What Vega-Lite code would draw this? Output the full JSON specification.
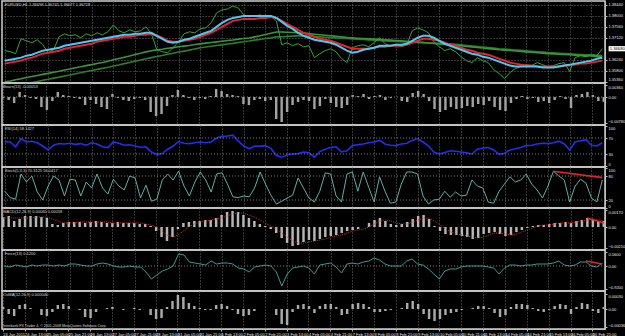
{
"$schema":"https://vega.github.io/schema/vega-lite/v6.json",
"background":"black",
"padding":0,
"spacing":0,
"bounds":"flush",
"config":{
 "view":{"stroke":"#cfcfcf","strokeWidth":1.5},
 "axis":{"labelFont":"Liberation Sans","labelFontSize":4.2,"labelColor":"#e6e6e6","domainColor":"#bdbdbd","tickColor":"#bdbdbd","gridColor":"#6c6c6c","gridDash":[1,2],"gridWidth":1,"tickSize":2,"labelPadding":1,"labelOverlap":false},
 "axisY":{"labelFlush":3.5,"labelFontSize":4},
 "text":{"font":"Liberation Sans","fontSize":4,"color":"#d8d8d8"}
},
"datasets":{"d":[
{"t":"24 Jan 2011","c":1.366,"e1":1.362,"e2":1.3608,"m1":1.35344,"m2":1.35104,"b":-0.0003,"r":61,"s":42,"m":0.001,"g":0.0009,"f":0,"o":0.00004},
{"t":"24 Jan 01:00","c":1.3656,"e1":1.3624,"e2":1.3612,"m1":1.35384,"m2":1.35144,"b":-0.0009,"r":60,"s":26,"m":0.0011,"g":0.0009,"f":-0.04,"o":-0.0001},
{"t":"24 Jan 05:00","c":1.3648,"e1":1.3628,"e2":1.3616,"m1":1.35432,"m2":1.35192,"b":-0.0018,"r":48,"s":22,"m":0.0006,"g":0.0009,"f":0.04,"o":-0.00014},
{"t":"24 Jan 09:00","c":1.3708,"e1":1.3632,"e2":1.362,"m1":1.35472,"m2":1.35232,"b":0.0015,"r":68,"s":85,"m":0.0008,"g":0.0009,"f":0,"o":0.00008},
{"t":"24 Jan 13:00","c":1.37,"e1":1.364,"e2":1.3628,"m1":1.3552,"m2":1.3528,"b":0.0006,"r":60,"s":65,"m":0.0011,"g":0.0009,"f":-0.04,"o":0.0001},
{"t":"24 Jan 17:00","c":1.3692,"e1":1.3644,"e2":1.3632,"m1":1.3556,"m2":1.3532,"b":-0.0003,"r":62,"s":80,"m":0.0011,"g":0.0009,"f":0.04,"o":0.00002},
{"t":"24 Jan 21:00","c":1.3704,"e1":1.3652,"e2":1.364,"m1":1.356,"m2":1.3536,"b":-0.0006,"r":58,"s":40,"m":0.0011,"g":0.001,"f":0,"o":0},
{"t":"25 Jan 01:00","c":1.3684,"e1":1.366,"e2":1.3648,"m1":1.35648,"m2":1.35408,"b":-0.003,"r":50,"s":20,"m":0.001,"g":0.001,"f":0.04,"o":-0.00012},
{"t":"25 Jan 05:00","c":1.3652,"e1":1.3664,"e2":1.3652,"m1":1.35688,"m2":1.35448,"b":-0.0039,"r":40,"s":55,"m":0.0009,"g":0.001,"f":0.04,"o":-0.00014},
{"t":"25 Jan 09:00","c":1.3664,"e1":1.3668,"e2":1.3656,"m1":1.35736,"m2":1.35496,"b":-0.0012,"r":52,"s":80,"m":0.0003,"g":0.0008,"f":0,"o":-0.00006},
{"t":"25 Jan 13:00","c":1.3716,"e1":1.3672,"e2":1.366,"m1":1.35776,"m2":1.35536,"b":0.0015,"r":56,"s":70,"m":0.0002,"g":0.0006,"f":0.04,"o":0.00008},
{"t":"25 Jan 17:00","c":1.3728,"e1":1.368,"e2":1.3668,"m1":1.35824,"m2":1.35584,"b":0.0006,"r":55,"s":30,"m":0.0004,"g":0.0004,"f":0,"o":0.0001},
{"t":"25 Jan 21:00","c":1.372,"e1":1.3684,"e2":1.3672,"m1":1.35864,"m2":1.35624,"b":0.0003,"r":57,"s":72,"m":0.0005,"g":0.0004,"f":0.08,"o":0.00006},
{"t":"26 Jan 01:00","c":1.3724,"e1":1.3688,"e2":1.3676,"m1":1.35912,"m2":1.35672,"b":-0.0003,"r":54,"s":70,"m":0.0005,"g":0.0004,"f":0.08,"o":0},
{"t":"26 Jan 05:00","c":1.3712,"e1":1.3692,"e2":1.368,"m1":1.35952,"m2":1.35712,"b":-0.0006,"r":56,"s":30,"m":0.0005,"g":0.0005,"f":0.04,"o":-0.00002},
{"t":"26 Jan 09:00","c":1.3728,"e1":1.3696,"e2":1.3684,"m1":1.36,"m2":1.3576,"b":-0.0024,"r":52,"s":65,"m":0.0004,"g":0.0005,"f":0,"o":-0.00016},
{"t":"26 Jan 13:00","c":1.372,"e1":1.37,"e2":1.3688,"m1":1.3604,"m2":1.358,"b":-0.0009,"r":58,"s":50,"m":0.0005,"g":0.0005,"f":0,"o":-0.00018},
{"t":"26 Jan 17:00","c":1.3732,"e1":1.3704,"e2":1.3696,"m1":1.36088,"m2":1.35848,"b":-0.0021,"r":55,"s":85,"m":0.0006,"g":0.0005,"f":0.08,"o":-0.00006},
{"t":"26 Jan 21:00","c":1.3724,"e1":1.3708,"e2":1.37,"m1":1.36128,"m2":1.35888,"b":-0.003,"r":48,"s":50,"m":0.0005,"g":0.0005,"f":0.12,"o":0},
{"t":"27 Jan 01:00","c":1.3736,"e1":1.3712,"e2":1.3704,"m1":1.36176,"m2":1.35932,"b":-0.0036,"r":46,"s":35,"m":0.0004,"g":0.0005,"f":0.08,"o":0.00002},
{"t":"27 Jan 05:00","c":1.3764,"e1":1.3716,"e2":1.3708,"m1":1.36236,"m2":1.35984,"b":0.0009,"r":60,"s":72,"m":0.0004,"g":0.0004,"f":0,"o":0.00004},
{"t":"27 Jan 09:00","c":1.374,"e1":1.372,"e2":1.3712,"m1":1.36284,"m2":1.36028,"b":-0.0003,"r":57,"s":55,"m":0.0005,"g":0.0004,"f":-0.04,"o":0},
{"t":"27 Jan 13:00","c":1.3732,"e1":1.3724,"e2":1.3716,"m1":1.3634,"m2":1.3608,"b":-0.0009,"r":52,"s":45,"m":0.0004,"g":0.0004,"f":-0.04,"o":-0.00002},
{"t":"27 Jan 17:00","c":1.3744,"e1":1.3724,"e2":1.3716,"m1":1.36388,"m2":1.36128,"b":-0.0012,"r":53,"s":80,"m":0.0004,"g":0.0004,"f":0,"o":0},
{"t":"27 Jan 21:00","c":1.3736,"e1":1.3728,"e2":1.372,"m1":1.36448,"m2":1.3618,"b":-0.0006,"r":50,"s":75,"m":0.0004,"g":0.0004,"f":-0.04,"o":0.00002},
{"t":"28 Jan 01:00","c":1.374,"e1":1.3728,"e2":1.3724,"m1":1.36496,"m2":1.36224,"b":-0.0003,"r":47,"s":25,"m":0.0003,"g":0.0004,"f":-0.04,"o":-0.00002},
{"t":"28 Jan 05:00","c":1.3756,"e1":1.3732,"e2":1.3724,"m1":1.36552,"m2":1.36276,"b":-0.0009,"r":48,"s":57,"m":0.0003,"g":0.0003,"f":-0.24,"o":0},
{"t":"28 Jan 09:00","c":1.3728,"e1":1.3732,"e2":1.3728,"m1":1.366,"m2":1.3632,"b":-0.0045,"r":35,"s":17,"m":0.0001,"g":0.0002,"f":-0.52,"o":-0.00012},
{"t":"28 Jan 13:00","c":1.3664,"e1":1.372,"e2":1.372,"m1":1.36632,"m2":1.36368,"b":-0.0057,"r":29,"s":22,"m":-0.0004,"g":0,"f":-0.36,"o":-0.0002},
{"t":"28 Jan 17:00","c":1.3656,"e1":1.3708,"e2":1.3712,"m1":1.3666,"m2":1.36408,"b":-0.0051,"r":31,"s":70,"m":-0.001,"g":-0.0004,"f":-0.2,"o":-0.00018},
{"t":"28 Jan 21:00","c":1.3652,"e1":1.3696,"e2":1.37,"m1":1.36696,"m2":1.36456,"b":-0.0027,"r":42,"s":85,"m":-0.0014,"g":-0.0008,"f":-0.12,"o":0.00004},
{"t":"31 Jan 01:00","c":1.3672,"e1":1.3692,"e2":1.3696,"m1":1.36724,"m2":1.36496,"b":0.0006,"r":50,"s":70,"m":-0.001,"g":-0.001,"f":0,"o":0.00016},
{"t":"31 Jan 05:00","c":1.3696,"e1":1.3696,"e2":1.3696,"m1":1.36756,"m2":1.36544,"b":0.0021,"r":61,"s":92,"m":-0.0002,"g":-0.0008,"f":0.48,"o":0.00028},
{"t":"31 Jan 09:00","c":1.3728,"e1":1.3704,"e2":1.37,"m1":1.36784,"m2":1.36584,"b":0.0006,"r":57,"s":55,"m":0.0004,"g":-0.0004,"f":0.44,"o":0.00024},
{"t":"31 Jan 13:00","c":1.3736,"e1":1.3708,"e2":1.3704,"m1":1.36812,"m2":1.36624,"b":-0.0003,"r":56,"s":30,"m":0.0005,"g":0,"f":0.16,"o":0.00012},
{"t":"31 Jan 17:00","c":1.3732,"e1":1.3716,"e2":1.3708,"m1":1.36848,"m2":1.36672,"b":-0.0009,"r":58,"s":65,"m":0.0006,"g":0.0003,"f":0.12,"o":0.00006},
{"t":"31 Jan 21:00","c":1.3748,"e1":1.3724,"e2":1.3716,"m1":1.36876,"m2":1.36716,"b":-0.0003,"r":60,"s":90,"m":0.0006,"g":0.0005,"f":0.08,"o":0.00002},
{"t":"1 Feb 01:00","c":1.3752,"e1":1.3732,"e2":1.3724,"m1":1.36904,"m2":1.36748,"b":-0.0006,"r":58,"s":70,"m":0.0007,"g":0.0006,"f":0.04,"o":-0.00002},
{"t":"1 Feb 05:00","c":1.3772,"e1":1.374,"e2":1.3732,"m1":1.36928,"m2":1.36776,"b":0.0003,"r":60,"s":40,"m":0.0007,"g":0.0007,"f":0.2,"o":-0.00002},
{"t":"1 Feb 09:00","c":1.3812,"e1":1.3756,"e2":1.3744,"m1":1.36956,"m2":1.36808,"b":0.0024,"r":70,"s":85,"m":0.0009,"g":0.0008,"f":0.08,"o":0.00008},
{"t":"1 Feb 13:00","c":1.3824,"e1":1.3772,"e2":1.3756,"m1":1.3698,"m2":1.36836,"b":0.0018,"r":74,"s":88,"m":0.0012,"g":0.0009,"f":0.12,"o":0.0001},
{"t":"1 Feb 17:00","c":1.3828,"e1":1.3784,"e2":1.3768,"m1":1.37008,"m2":1.36868,"b":0.0009,"r":75,"s":60,"m":0.0015,"g":0.0011,"f":0.12,"o":0.00006},
{"t":"1 Feb 21:00","c":1.384,"e1":1.3792,"e2":1.378,"m1":1.37032,"m2":1.36896,"b":0.0006,"r":77,"s":28,"m":0.0016,"g":0.0013,"f":0.08,"o":-0.00002},
{"t":"2 Feb 01:00","c":1.3832,"e1":1.3796,"e2":1.3784,"m1":1.37064,"m2":1.36932,"b":0.0003,"r":62,"s":26,"m":0.0015,"g":0.0014,"f":-0.08,"o":-0.0001},
{"t":"2 Feb 05:00","c":1.3804,"e1":1.38,"e2":1.3788,"m1":1.37088,"m2":1.3696,"b":-0.0021,"r":50,"s":30,"m":0.0012,"g":0.0014,"f":-0.12,"o":-0.00014},
{"t":"2 Feb 09:00","c":1.3796,"e1":1.38,"e2":1.3788,"m1":1.37112,"m2":1.36988,"b":-0.0024,"r":43,"s":28,"m":0.0009,"g":0.0012,"f":-0.24,"o":-0.00012},
{"t":"2 Feb 13:00","c":1.38,"e1":1.38,"e2":1.3788,"m1":1.37156,"m2":1.37024,"b":-0.0009,"r":50,"s":50,"m":0.0006,"g":0.001,"f":-0.04,"o":-0.00004},
{"t":"2 Feb 17:00","c":1.3804,"e1":1.38,"e2":1.3792,"m1":1.372,"m2":1.37052,"b":-0.0006,"r":49,"s":90,"m":0.0003,"g":0.0007,"f":0,"o":0},
{"t":"2 Feb 21:00","c":1.3796,"e1":1.38,"e2":1.3792,"m1":1.37252,"m2":1.37088,"b":-0.0012,"r":51,"s":60,"m":0.0001,"g":0.0004,"f":0.04,"o":0},
{"t":"3 Feb 01:00","c":1.38,"e1":1.38,"e2":1.3796,"m1":1.373,"m2":1.37116,"b":-0.0009,"r":44,"s":32,"m":-0.0002,"g":0.0001,"f":0,"o":0},
{"t":"3 Feb 05:00","c":1.378,"e1":1.3792,"e2":1.3792,"m1":1.37352,"m2":1.37156,"b":-0.0066,"r":26,"s":10,"m":-0.0006,"g":-0.0002,"f":-0.24,"o":-0.00012},
{"t":"3 Feb 09:00","c":1.3684,"e1":1.3776,"e2":1.378,"m1":1.37352,"m2":1.37164,"b":-0.0075,"r":22,"s":17,"m":-0.0011,"g":-0.0006,"f":-0.8,"o":-0.0003},
{"t":"3 Feb 13:00","c":1.3692,"e1":1.376,"e2":1.3768,"m1":1.37344,"m2":1.37176,"b":-0.0045,"r":28,"s":25,"m":-0.0016,"g":-0.001,"f":-0.32,"o":-0.00032},
{"t":"3 Feb 17:00","c":1.368,"e1":1.3748,"e2":1.3756,"m1":1.37332,"m2":1.37188,"b":-0.0024,"r":30,"s":32,"m":-0.0019,"g":-0.0014,"f":-0.08,"o":-0.00006},
{"t":"3 Feb 21:00","c":1.3688,"e1":1.3732,"e2":1.3744,"m1":1.37324,"m2":1.37196,"b":-0.0015,"r":31,"s":75,"m":-0.0018,"g":-0.0016,"f":-0.04,"o":0.00008},
{"t":"4 Feb 01:00","c":1.3676,"e1":1.372,"e2":1.3732,"m1":1.37308,"m2":1.37192,"b":-0.0009,"r":35,"s":50,"m":-0.0015,"g":-0.0016,"f":0,"o":0.0001},
{"t":"4 Feb 05:00","c":1.368,"e1":1.3712,"e2":1.3724,"m1":1.37288,"m2":1.3718,"b":-0.0012,"r":33,"s":25,"m":-0.0013,"g":-0.0015,"f":-0.08,"o":0.00006},
{"t":"4 Feb 09:00","c":1.3632,"e1":1.3704,"e2":1.3716,"m1":1.37264,"m2":1.37168,"b":-0.0036,"r":22,"s":15,"m":-0.0014,"g":-0.0014,"f":-0.32,"o":-0.00008},
{"t":"4 Feb 13:00","c":1.3648,"e1":1.37,"e2":1.3708,"m1":1.37244,"m2":1.37156,"b":-0.0027,"r":36,"s":42,"m":-0.0012,"g":-0.0013,"f":0.04,"o":0.00006},
{"t":"4 Feb 17:00","c":1.366,"e1":1.3696,"e2":1.3704,"m1":1.3722,"m2":1.3714,"b":-0.0006,"r":42,"s":88,"m":-0.001,"g":-0.0012,"f":0.08,"o":0.0001},
{"t":"4 Feb 21:00","c":1.3668,"e1":1.3692,"e2":1.37,"m1":1.372,"m2":1.37128,"b":-0.0018,"r":46,"s":85,"m":-0.0009,"g":-0.001,"f":0.12,"o":0.0001},
{"t":"7 Feb 01:00","c":1.3656,"e1":1.3684,"e2":1.3692,"m1":1.37176,"m2":1.37112,"b":-0.003,"r":48,"s":30,"m":-0.0008,"g":-0.0009,"f":-0.04,"o":0.00004},
{"t":"7 Feb 05:00","c":1.3628,"e1":1.3672,"e2":1.3684,"m1":1.37156,"m2":1.371,"b":-0.0033,"r":35,"s":15,"m":-0.0006,"g":-0.0008,"f":-0.28,"o":-0.00012},
{"t":"7 Feb 09:00","c":1.3612,"e1":1.366,"e2":1.3676,"m1":1.37132,"m2":1.37088,"b":-0.0024,"r":38,"s":85,"m":-0.0004,"g":-0.0006,"f":0.08,"o":-0.0001},
{"t":"7 Feb 13:00","c":1.3672,"e1":1.3652,"e2":1.3668,"m1":1.37116,"m2":1.37076,"b":0.0006,"r":51,"s":90,"m":-0.0003,"g":-0.0004,"f":0.12,"o":0.0001},
{"t":"7 Feb 17:00","c":1.368,"e1":1.3656,"e2":1.3668,"m1":1.371,"m2":1.3706,"b":0.0003,"r":53,"s":42,"m":-0.0002,"g":-0.0003,"f":0.08,"o":0.00012},
{"t":"7 Feb 21:00","c":1.3684,"e1":1.3664,"e2":1.3668,"m1":1.37088,"m2":1.37048,"b":0.0009,"r":55,"s":90,"m":0,"g":-0.0002,"f":0.16,"o":0.0001},
{"t":"8 Feb 01:00","c":1.3676,"e1":1.3668,"e2":1.3668,"m1":1.37076,"m2":1.37036,"b":-0.0006,"r":58,"s":52,"m":0.0004,"g":0,"f":0.2,"o":0.00004},
{"t":"8 Feb 05:00","c":1.3692,"e1":1.3672,"e2":1.3672,"m1":1.37064,"m2":1.37024,"b":0.0003,"r":60,"s":15,"m":0.0007,"g":0.0003,"f":0.32,"o":-0.00006},
{"t":"8 Feb 09:00","c":1.3712,"e1":1.368,"e2":1.3676,"m1":1.37052,"m2":1.37012,"b":0.0006,"r":64,"s":78,"m":0.0009,"g":0.0006,"f":0.24,"o":-0.00006},
{"t":"8 Feb 13:00","c":1.3688,"e1":1.368,"e2":1.3676,"m1":1.37036,"m2":1.36996,"b":-0.0009,"r":55,"s":42,"m":0.0006,"g":0.0007,"f":0.08,"o":-0.00004},
{"t":"8 Feb 17:00","c":1.368,"e1":1.368,"e2":1.368,"m1":1.37024,"m2":1.36984,"b":-0.0003,"r":52,"s":12,"m":0.0003,"g":0.0006,"f":0,"o":-0.00002},
{"t":"8 Feb 21:00","c":1.3684,"e1":1.3684,"e2":1.368,"m1":1.37008,"m2":1.36968,"b":0,"r":51,"s":15,"m":0.0002,"g":0.0004,"f":0,"o":0},
{"t":"9 Feb 01:00","c":1.3676,"e1":1.3684,"e2":1.368,"m1":1.36996,"m2":1.3696,"b":-0.0012,"r":55,"s":60,"m":0.0003,"g":0.0003,"f":0,"o":0.00002},
{"t":"9 Feb 05:00","c":1.3684,"e1":1.3688,"e2":1.3684,"m1":1.36976,"m2":1.36948,"b":-0.0015,"r":57,"s":90,"m":0.0005,"g":0.0003,"f":0.2,"o":0.00012},
{"t":"9 Feb 09:00","c":1.374,"e1":1.37,"e2":1.3692,"m1":1.3696,"m2":1.3694,"b":0.0012,"r":64,"s":90,"m":0.0008,"g":0.0005,"f":0.28,"o":0.00016},
{"t":"9 Feb 13:00","c":1.3752,"e1":1.3712,"e2":1.37,"m1":1.36944,"m2":1.36932,"b":0.0018,"r":68,"s":85,"m":0.0011,"g":0.0007,"f":0.08,"o":0.0001},
{"t":"9 Feb 17:00","c":1.3744,"e1":1.372,"e2":1.3708,"m1":1.36928,"m2":1.36924,"b":0.0009,"r":60,"s":30,"m":0.0012,"g":0.0009,"f":0.04,"o":-0.0001},
{"t":"9 Feb 21:00","c":1.3732,"e1":1.372,"e2":1.3708,"m1":1.36908,"m2":1.36912,"b":-0.0012,"r":50,"s":10,"m":0.0008,"g":0.0009,"f":-0.12,"o":-0.0002},
{"t":"10 Feb 01:00","c":1.3696,"e1":1.3712,"e2":1.3704,"m1":1.36892,"m2":1.36904,"b":-0.0036,"r":35,"s":20,"m":0.0001,"g":0.0006,"f":-0.32,"o":-0.00024},
{"t":"10 Feb 05:00","c":1.3676,"e1":1.37,"e2":1.37,"m1":1.36872,"m2":1.36896,"b":-0.0045,"r":30,"s":22,"m":-0.0004,"g":0.0002,"f":-0.52,"o":-0.0002},
{"t":"10 Feb 09:00","c":1.366,"e1":1.3688,"e2":1.3692,"m1":1.36856,"m2":1.36888,"b":-0.0039,"r":34,"s":42,"m":-0.0007,"g":-0.0002,"f":-0.2,"o":-0.00012},
{"t":"10 Feb 13:00","c":1.3668,"e1":1.368,"e2":1.3684,"m1":1.3684,"m2":1.3688,"b":-0.003,"r":38,"s":27,"m":-0.0008,"g":-0.0005,"f":-0.12,"o":-0.00008},
{"t":"10 Feb 17:00","c":1.3656,"e1":1.3672,"e2":1.368,"m1":1.36816,"m2":1.36856,"b":-0.0036,"r":37,"s":40,"m":-0.0008,"g":-0.0007,"f":-0.12,"o":-0.00006},
{"t":"10 Feb 21:00","c":1.3636,"e1":1.3664,"e2":1.3672,"m1":1.36796,"m2":1.36836,"b":-0.0033,"r":35,"s":30,"m":-0.0009,"g":-0.0008,"f":-0.04,"o":-0.00002},
{"t":"11 Feb 01:00","c":1.362,"e1":1.3656,"e2":1.3664,"m1":1.36772,"m2":1.36812,"b":-0.0027,"r":33,"s":32,"m":-0.001,"g":-0.0009,"f":0,"o":0},
{"t":"11 Feb 05:00","c":1.3612,"e1":1.3648,"e2":1.366,"m1":1.36752,"m2":1.36792,"b":-0.003,"r":30,"s":70,"m":-0.0012,"g":-0.001,"f":0,"o":0.00002},
{"t":"11 Feb 09:00","c":1.3632,"e1":1.3644,"e2":1.3652,"m1":1.36728,"m2":1.36768,"b":-0.0021,"r":42,"s":55,"m":-0.0011,"g":-0.0011,"f":0,"o":0.00006},
{"t":"11 Feb 13:00","c":1.362,"e1":1.3636,"e2":1.3648,"m1":1.36708,"m2":1.36748,"b":-0.0024,"r":45,"s":50,"m":-0.0007,"g":-0.001,"f":0,"o":0.00006},
{"t":"11 Feb 17:00","c":1.3612,"e1":1.3632,"e2":1.3644,"m1":1.36684,"m2":1.36724,"b":-0.0012,"r":46,"s":15,"m":-0.0006,"g":-0.0008,"f":-0.04,"o":0.00002},
{"t":"11 Feb 21:00","c":1.3584,"e1":1.3624,"e2":1.3636,"m1":1.36664,"m2":1.36704,"b":-0.003,"r":40,"s":12,"m":-0.0005,"g":-0.0006,"f":-0.08,"o":-0.00008},
{"t":"14 Feb 01:00","c":1.3568,"e1":1.3616,"e2":1.3628,"m1":1.3664,"m2":1.3668,"b":-0.0039,"r":29,"s":42,"m":-0.0007,"g":-0.0006,"f":-0.32,"o":-0.00016},
{"t":"14 Feb 05:00","c":1.3548,"e1":1.3608,"e2":1.362,"m1":1.36624,"m2":1.36664,"b":-0.0042,"r":32,"s":60,"m":-0.0009,"g":-0.0007,"f":-0.08,"o":-0.00012},
{"t":"14 Feb 09:00","c":1.3572,"e1":1.36,"e2":1.3612,"m1":1.36608,"m2":1.36648,"b":-0.0018,"r":40,"s":78,"m":-0.0008,"g":-0.0008,"f":0.04,"o":0.00004},
{"t":"14 Feb 13:00","c":1.3588,"e1":1.3596,"e2":1.3608,"m1":1.36588,"m2":1.36628,"b":-0.0006,"r":43,"s":65,"m":-0.0005,"g":-0.0007,"f":0.04,"o":0.0001},
{"t":"14 Feb 17:00","c":1.3596,"e1":1.3596,"e2":1.3604,"m1":1.36572,"m2":1.36612,"b":0.0003,"r":46,"s":70,"m":-0.0003,"g":-0.0005,"f":0,"o":0.0001},
{"t":"14 Feb 21:00","c":1.3604,"e1":1.3596,"e2":1.36,"m1":1.36552,"m2":1.36592,"b":-0.0006,"r":51,"s":85,"m":-0.0001,"g":-0.0003,"f":0.04,"o":0.00008},
{"t":"15 Feb 01:00","c":1.36,"e1":1.3596,"e2":1.36,"m1":1.36536,"m2":1.36576,"b":-0.0003,"r":52,"s":60,"m":0.0001,"g":-0.0001,"f":0.04,"o":0.00002},
{"t":"15 Feb 05:00","c":1.3612,"e1":1.3596,"e2":1.3596,"m1":1.3652,"m2":1.3656,"b":-0.0015,"r":55,"s":45,"m":0.0002,"g":0.0001,"f":0.08,"o":-0.00004},
{"t":"15 Feb 09:00","c":1.3604,"e1":1.3592,"e2":1.3596,"m1":1.36504,"m2":1.36544,"b":-0.0012,"r":57,"s":25,"m":0.0002,"g":0.0002,"f":0.08,"o":-0.00006},
{"t":"15 Feb 13:00","c":1.3596,"e1":1.3592,"e2":1.3596,"m1":1.36484,"m2":1.36524,"b":-0.0018,"r":56,"s":55,"m":0.0003,"g":0.0002,"f":0.08,"o":-0.00002},
{"t":"15 Feb 17:00","c":1.36,"e1":1.3592,"e2":1.3596,"m1":1.36472,"m2":1.36512,"b":-0.0009,"r":58,"s":92,"m":0.0004,"g":0.0003,"f":0.12,"o":0.00006,"st":92},
{"t":"15 Feb 21:00","c":1.3608,"e1":1.3596,"e2":1.3596,"m1":1.36456,"m2":1.36496,"b":0.0003,"r":62,"s":80,"m":0.0004,"g":0.0004,"f":0.2,"o":0.0001},
{"t":"16 Feb 01:00","c":1.3612,"e1":1.36,"e2":1.36,"m1":1.36444,"m2":1.36484,"b":-0.0006,"r":55,"s":70,"m":0.0005,"g":0.0004,"f":0.04,"o":0.00008},
{"t":"16 Feb 05:00","c":1.3576,"e1":1.3604,"e2":1.36,"m1":1.36436,"m2":1.36476,"b":-0.0033,"r":40,"s":15,"m":0.0004,"g":0.0004,"f":0,"o":-0.0001},
{"t":"16 Feb 09:00","c":1.3632,"e1":1.3608,"e2":1.3604,"m1":1.3642,"m2":1.3646,"b":0.0006,"r":60,"s":55,"m":0.0006,"g":0.0005,"f":0.04,"o":0.00004},
{"t":"16 Feb 13:00","c":1.364,"e1":1.3612,"e2":1.3608,"m1":1.36408,"m2":1.36448,"b":0.0009,"r":63,"s":72,"m":0.0007,"g":0.0006,"f":0.16,"o":0.00012},
{"t":"16 Feb 17:00","c":1.3636,"e1":1.3616,"e2":1.3608,"m1":1.36396,"m2":1.36436,"b":0.0015,"r":66,"s":62,"m":0.0009,"g":0.0007,"f":0.16,"o":0.0001,"mt":0.0009,"ft":0.2},
{"t":"16 Feb 21:00","c":1.3644,"e1":1.362,"e2":1.3612,"m1":1.36384,"m2":1.36424,"b":0.0006,"r":52,"s":25,"m":0.0008,"g":0.0008,"f":0,"o":-0.00004},
{"t":"17 Feb 01:00","c":1.364,"e1":1.3628,"e2":1.3616,"m1":1.36372,"m2":1.36412,"b":-0.0012,"r":50,"s":15,"m":0.0006,"g":0.0007,"f":-0.04,"o":-0.00008},
{"t":"17 Feb 05:00","c":1.3668,"e1":1.3632,"e2":1.362,"m1":1.3636,"m2":1.364,"b":-0.0015,"r":58,"s":70,"m":0.0006,"g":0.0006,"f":0.12,"o":0.00004,"st":76,"mt":0.0004,"ft":0.08}
]},
"data":{"name":"d"},
"vconcat":[
{"width":603,"height":82,
 "layer":[
  {"mark":{"type":"line","color":"#2c7e2c","strokeWidth":1.6,"clip":true},
   "encoding":{"x":{"field":"t","type":"ordinal","sort":null,"title":null,"scale":{"paddingInner":0.55,"paddingOuter":0},"axis":{"values":["24 Jan 2011","24 Jan 13:00","25 Jan 05:00","25 Jan 21:00","26 Jan 13:00","27 Jan 05:00","27 Jan 21:00","28 Jan 13:00","31 Jan 05:00","31 Jan 21:00","1 Feb 13:00","2 Feb 05:00","2 Feb 21:00","3 Feb 13:00","4 Feb 05:00","4 Feb 21:00","7 Feb 13:00","8 Feb 05:00","8 Feb 21:00","9 Feb 13:00","10 Feb 05:00","10 Feb 21:00","11 Feb 13:00","14 Feb 05:00","14 Feb 21:00","15 Feb 13:00","16 Feb 05:00","16 Feb 21:00"],"labels":false,"ticks":false,"domain":false,"grid":true}},
    "y":{"field":"m2","type":"quantitative","title":null,"scale":{"domain":[1.353,1.386],"zero":false,"nice":false},"axis":{"orient":"right","values":[1.3844,1.38,1.3756,1.3712,1.3624,1.358,1.3536],"tickCount":30,"format":".5f","grid":true,"labelOverlap":false}}}},
  {"mark":{"type":"line","color":"#3a963a","strokeWidth":1.6,"clip":true},
   "encoding":{"x":{"field":"t","type":"ordinal","sort":null,"title":null},"y":{"field":"m1","type":"quantitative","title":null,"scale":{"domain":[1.353,1.386],"zero":false,"nice":false}}}},
  {"mark":{"type":"line","color":"#35a535","strokeWidth":1,"clip":true},
   "encoding":{"x":{"field":"t","type":"ordinal","sort":null,"title":null},"y":{"field":"c","type":"quantitative","title":null,"scale":{"domain":[1.353,1.386],"zero":false,"nice":false}}}},
  {"mark":{"type":"line","color":"#e3262a","strokeWidth":2,"clip":true},
   "encoding":{"x":{"field":"t","type":"ordinal","sort":null,"title":null},"y":{"field":"e2","type":"quantitative","title":null,"scale":{"domain":[1.353,1.386],"zero":false,"nice":false}}}},
  {"mark":{"type":"line","color":"#52c6f2","strokeWidth":2,"clip":true},
   "encoding":{"x":{"field":"t","type":"ordinal","sort":null,"title":null},"y":{"field":"e1","type":"quantitative","title":null,"scale":{"domain":[1.353,1.386],"zero":false,"nice":false}}}},
  {"transform":[{"filter":"datum.t === '17 Feb 05:00'"}],
   "mark":{"type":"point","shape":"M-1,-0.3H1V0.3H-1Z","size":300,"filled":true,"color":"#ffffff","opacity":1,"strokeWidth":0,"xOffset":15},
   "encoding":{"x":{"field":"t","type":"ordinal","sort":null,"title":null},"y":{"field":"c","type":"quantitative","title":null,"scale":{"domain":[1.353,1.386],"zero":false,"nice":false}}}},
  {"transform":[{"filter":"datum.t === '17 Feb 05:00'"}],
   "mark":{"type":"text","color":"#000000","fontSize":4.2,"align":"center","baseline":"middle","xOffset":15},
   "encoding":{"x":{"field":"t","type":"ordinal","sort":null,"title":null},"y":{"field":"c","type":"quantitative","title":null,"scale":{"domain":[1.353,1.386],"zero":false,"nice":false}},"text":{"field":"c","format":".5f"}}},
  {"transform":[{"filter":"datum.t === '24 Jan 2011'"}],
   "mark":{"type":"text","text":"EURUSD,H1  1.36698 1.36741 1.36677 1.36718","align":"left","baseline":"top","dy":2},
   "encoding":{"x":{"field":"t","type":"ordinal","sort":null,"title":null},"y":{"datum":1.386,"type":"quantitative","title":null,"scale":{"domain":[1.353,1.386],"zero":false,"nice":false}}}}
 ]},
{"width":603,"height":42,
 "layer":[
  {"mark":{"type":"bar","color":"#a2a2a2"},
   "encoding":{"x":{"field":"t","type":"ordinal","sort":null,"title":null,"scale":{"paddingInner":0.55,"paddingOuter":0},"axis":{"values":["24 Jan 2011","24 Jan 13:00","25 Jan 05:00","25 Jan 21:00","26 Jan 13:00","27 Jan 05:00","27 Jan 21:00","28 Jan 13:00","31 Jan 05:00","31 Jan 21:00","1 Feb 13:00","2 Feb 05:00","2 Feb 21:00","3 Feb 13:00","4 Feb 05:00","4 Feb 21:00","7 Feb 13:00","8 Feb 05:00","8 Feb 21:00","9 Feb 13:00","10 Feb 05:00","10 Feb 21:00","11 Feb 13:00","14 Feb 05:00","14 Feb 21:00","15 Feb 13:00","16 Feb 05:00","16 Feb 21:00"],"labels":false,"ticks":false,"domain":false,"grid":true}},
    "y":{"field":"b","type":"quantitative","title":null,"scale":{"domain":[-0.0084,0.0042],"nice":false},"axis":{"orient":"right","values":[0.0036,0,-0.0078],"tickCount":30,"labelOverlap":false,"labelExpr":"datum.value == 0 ? '0.00' : format(datum.value, '.5f')","grid":false}}}},
  {"data":{"values":[{"lv":0}]},
   "mark":{"type":"rule","color":"#7a7a7a","strokeDash":[1,2]},
   "encoding":{"y":{"field":"lv","type":"quantitative","title":null,"scale":{"domain":[-0.0084,0.0042],"nice":false}}}},
  {"transform":[{"filter":"datum.t === '24 Jan 2011'"}],
   "mark":{"type":"text","text":"Bears(13) -0.00053","align":"left","baseline":"top","dy":2},
   "encoding":{"x":{"field":"t","type":"ordinal","sort":null,"title":null},"y":{"datum":0.0042,"type":"quantitative","title":null,"scale":{"domain":[-0.0084,0.0042],"nice":false}}}}
 ]},
{"width":603,"height":42,
 "layer":[
  {"mark":{"type":"line","color":"#2030ec","strokeWidth":1.6},
   "encoding":{"x":{"field":"t","type":"ordinal","sort":null,"title":null,"scale":{"paddingInner":0.55,"paddingOuter":0},"axis":{"values":["24 Jan 2011","24 Jan 13:00","25 Jan 05:00","25 Jan 21:00","26 Jan 13:00","27 Jan 05:00","27 Jan 21:00","28 Jan 13:00","31 Jan 05:00","31 Jan 21:00","1 Feb 13:00","2 Feb 05:00","2 Feb 21:00","3 Feb 13:00","4 Feb 05:00","4 Feb 21:00","7 Feb 13:00","8 Feb 05:00","8 Feb 21:00","9 Feb 13:00","10 Feb 05:00","10 Feb 21:00","11 Feb 13:00","14 Feb 05:00","14 Feb 21:00","15 Feb 13:00","16 Feb 05:00","16 Feb 21:00"],"labels":false,"ticks":false,"domain":false,"grid":true}},
    "y":{"field":"r","type":"quantitative","title":null,"scale":{"domain":[-2.5,102.5],"nice":false},"axis":{"orient":"right","values":[100,70,30,0],"tickCount":30,"labelOverlap":false,"format":"d","grid":false}}}},
  {"data":{"values":[{"lv":70},{"lv":30}]},
   "mark":{"type":"rule","color":"#7a7a7a","strokeDash":[1,2]},
   "encoding":{"y":{"field":"lv","type":"quantitative","title":null,"scale":{"domain":[-2.5,102.5],"nice":false}}}},
  {"transform":[{"filter":"datum.t === '24 Jan 2011'"}],
   "mark":{"type":"text","text":"RSI(14) 58.1427","align":"left","baseline":"top","dy":2},
   "encoding":{"x":{"field":"t","type":"ordinal","sort":null,"title":null},"y":{"datum":102.5,"type":"quantitative","title":null,"scale":{"domain":[-2.5,102.5],"nice":false}}}}
 ]},
{"width":603,"height":41,
 "layer":[
  {"mark":{"type":"line","color":"#5fb0a6","strokeWidth":1},
   "encoding":{"x":{"field":"t","type":"ordinal","sort":null,"title":null,"scale":{"paddingInner":0.55,"paddingOuter":0},"axis":{"values":["24 Jan 2011","24 Jan 13:00","25 Jan 05:00","25 Jan 21:00","26 Jan 13:00","27 Jan 05:00","27 Jan 21:00","28 Jan 13:00","31 Jan 05:00","31 Jan 21:00","1 Feb 13:00","2 Feb 05:00","2 Feb 21:00","3 Feb 13:00","4 Feb 05:00","4 Feb 21:00","7 Feb 13:00","8 Feb 05:00","8 Feb 21:00","9 Feb 13:00","10 Feb 05:00","10 Feb 21:00","11 Feb 13:00","14 Feb 05:00","14 Feb 21:00","15 Feb 13:00","16 Feb 05:00","16 Feb 21:00"],"labels":false,"ticks":false,"domain":false,"grid":true}},
    "y":{"field":"s","type":"quantitative","title":null,"scale":{"domain":[0,102.5],"nice":false},"axis":{"orient":"right","values":[100,80,20,0],"tickCount":30,"labelOverlap":false,"format":"d","grid":false}}}},
  {"data":{"values":[{"lv":80},{"lv":20}]},
   "mark":{"type":"rule","color":"#7a7a7a","strokeDash":[1,2]},
   "encoding":{"y":{"field":"lv","type":"quantitative","title":null,"scale":{"domain":[0,102.5],"nice":false}}}},
  {"transform":[{"filter":"isValid(datum.st)"}],
   "mark":{"type":"line","color":"#e02828","strokeWidth":1.6},
   "encoding":{"x":{"field":"t","type":"ordinal","sort":null,"title":null},"y":{"field":"st","type":"quantitative","title":null,"scale":{"domain":[0,102.5],"nice":false}}}},
  {"transform":[{"filter":"datum.t === '24 Jan 2011'"}],
   "mark":{"type":"text","text":"Stoch(5,3,3) 70.3125 56.0417","align":"left","baseline":"top","dy":2},
   "encoding":{"x":{"field":"t","type":"ordinal","sort":null,"title":null},"y":{"datum":102.5,"type":"quantitative","title":null,"scale":{"domain":[0,102.5],"nice":false}}}}
 ]},
{"width":603,"height":42,
 "layer":[
  {"mark":{"type":"bar","color":"#b6b6b6"},
   "encoding":{"x":{"field":"t","type":"ordinal","sort":null,"title":null,"scale":{"paddingInner":0.55,"paddingOuter":0},"axis":{"values":["24 Jan 2011","24 Jan 13:00","25 Jan 05:00","25 Jan 21:00","26 Jan 13:00","27 Jan 05:00","27 Jan 21:00","28 Jan 13:00","31 Jan 05:00","31 Jan 21:00","1 Feb 13:00","2 Feb 05:00","2 Feb 21:00","3 Feb 13:00","4 Feb 05:00","4 Feb 21:00","7 Feb 13:00","8 Feb 05:00","8 Feb 21:00","9 Feb 13:00","10 Feb 05:00","10 Feb 21:00","11 Feb 13:00","14 Feb 05:00","14 Feb 21:00","15 Feb 13:00","16 Feb 05:00","16 Feb 21:00"],"labels":false,"ticks":false,"domain":false,"grid":true}},
    "y":{"field":"m","type":"quantitative","title":null,"scale":{"domain":[-0.0023,0.0019],"nice":false},"axis":{"orient":"right","values":[0.0017,0,-0.0021],"tickCount":30,"labelOverlap":false,"labelExpr":"datum.value == 0 ? '0.00' : format(datum.value, '.5f')","grid":false}}}},
  {"mark":{"type":"line","color":"#c83232","strokeWidth":1,"strokeDash":[1,1]},
   "encoding":{"x":{"field":"t","type":"ordinal","sort":null,"title":null},"y":{"field":"g","type":"quantitative","title":null,"scale":{"domain":[-0.0023,0.0019],"nice":false}}}},
  {"transform":[{"filter":"isValid(datum.mt)"}],
   "mark":{"type":"line","color":"#e02828","strokeWidth":1.6},
   "encoding":{"x":{"field":"t","type":"ordinal","sort":null,"title":null},"y":{"field":"mt","type":"quantitative","title":null,"scale":{"domain":[-0.0023,0.0019],"nice":false}}}},
  {"transform":[{"filter":"datum.t === '24 Jan 2011'"}],
   "mark":{"type":"text","text":"MACD(12,26,9) 0.00060 0.00058","align":"left","baseline":"top","dy":2},
   "encoding":{"x":{"field":"t","type":"ordinal","sort":null,"title":null},"y":{"datum":0.0019,"type":"quantitative","title":null,"scale":{"domain":[-0.0023,0.0019],"nice":false}}}}
 ]},
{"width":603,"height":41,
 "layer":[
  {"mark":{"type":"line","color":"#3c9c95","strokeWidth":1},
   "encoding":{"x":{"field":"t","type":"ordinal","sort":null,"title":null,"scale":{"paddingInner":0.55,"paddingOuter":0},"axis":{"values":["24 Jan 2011","24 Jan 13:00","25 Jan 05:00","25 Jan 21:00","26 Jan 13:00","27 Jan 05:00","27 Jan 21:00","28 Jan 13:00","31 Jan 05:00","31 Jan 21:00","1 Feb 13:00","2 Feb 05:00","2 Feb 21:00","3 Feb 13:00","4 Feb 05:00","4 Feb 21:00","7 Feb 13:00","8 Feb 05:00","8 Feb 21:00","9 Feb 13:00","10 Feb 05:00","10 Feb 21:00","11 Feb 13:00","14 Feb 05:00","14 Feb 21:00","15 Feb 13:00","16 Feb 05:00","16 Feb 21:00"],"labels":false,"ticks":false,"domain":false,"grid":true}},
    "y":{"field":"f","type":"quantitative","title":null,"scale":{"domain":[-1.0,0.64],"nice":false},"axis":{"orient":"right","values":[0.56,0,-0.92],"tickCount":30,"labelOverlap":false,"labelExpr":"datum.value == 0 ? '0.00' : format(datum.value, '.4f')","grid":false}}}},
  {"data":{"values":[{"lv":0}]},
   "mark":{"type":"rule","color":"#7a7a7a","strokeDash":[1,2]},
   "encoding":{"y":{"field":"lv","type":"quantitative","title":null,"scale":{"domain":[-1.0,0.64],"nice":false}}}},
  {"transform":[{"filter":"isValid(datum.ft)"}],
   "mark":{"type":"line","color":"#e02828","strokeWidth":1.6},
   "encoding":{"x":{"field":"t","type":"ordinal","sort":null,"title":null},"y":{"field":"ft","type":"quantitative","title":null,"scale":{"domain":[-1.0,0.64],"nice":false}}}},
  {"transform":[{"filter":"datum.t === '24 Jan 2011'"}],
   "mark":{"type":"text","text":"Force(13) 0.1200","align":"left","baseline":"top","dy":2},
   "encoding":{"x":{"field":"t","type":"ordinal","sort":null,"title":null},"y":{"datum":0.64,"type":"quantitative","title":null,"scale":{"domain":[-1.0,0.64],"nice":false}}}}
 ]},
{"width":603,"height":38,
 "layer":[
  {"mark":{"type":"bar","color":"#aaaaaa"},
   "encoding":{"x":{"field":"t","type":"ordinal","sort":null,"title":null,"scale":{"paddingInner":0.55,"paddingOuter":0},"axis":{"values":["24 Jan 2011","24 Jan 13:00","25 Jan 05:00","25 Jan 21:00","26 Jan 13:00","27 Jan 05:00","27 Jan 21:00","28 Jan 13:00","31 Jan 05:00","31 Jan 21:00","1 Feb 13:00","2 Feb 05:00","2 Feb 21:00","3 Feb 13:00","4 Feb 05:00","4 Feb 21:00","7 Feb 13:00","8 Feb 05:00","8 Feb 21:00","9 Feb 13:00","10 Feb 05:00","10 Feb 21:00","11 Feb 13:00","14 Feb 05:00","14 Feb 21:00","15 Feb 13:00","16 Feb 05:00","16 Feb 21:00"],"labels":true,"ticks":true,"domain":true,"grid":true,"labelAngle":0,"labelAlign":"left","labelFontSize":4,"labelPadding":1}},
    "y":{"field":"o","type":"quantitative","title":null,"scale":{"domain":[-0.0004,0.00036],"nice":false},"axis":{"orient":"right","values":[0.0003,0,-0.00036],"tickCount":30,"labelOverlap":false,"labelExpr":"datum.value == 0 ? '0.00' : format(datum.value, '.5f')","grid":false}}}},
  {"transform":[{"filter":"datum.t === '24 Jan 2011'"}],
   "mark":{"type":"text","text":"OsMA(12,26,9) 0.000040","align":"left","baseline":"top","dy":2},
   "encoding":{"x":{"field":"t","type":"ordinal","sort":null,"title":null},"y":{"datum":0.00036,"type":"quantitative","title":null,"scale":{"domain":[-0.0004,0.00036],"nice":false}}}},
  {"transform":[{"filter":"datum.t === '24 Jan 2011'"}],
   "mark":{"type":"text","text":"Interbank FX Trader 4, © 2001-2008 MetaQuotes Software Corp.","align":"left","baseline":"bottom","dy":-1,"fontSize":3.6},
   "encoding":{"x":{"field":"t","type":"ordinal","sort":null,"title":null},"y":{"datum":-0.0004,"type":"quantitative","title":null,"scale":{"domain":[-0.0004,0.00036],"nice":false}}}}
 ]}
]
}
